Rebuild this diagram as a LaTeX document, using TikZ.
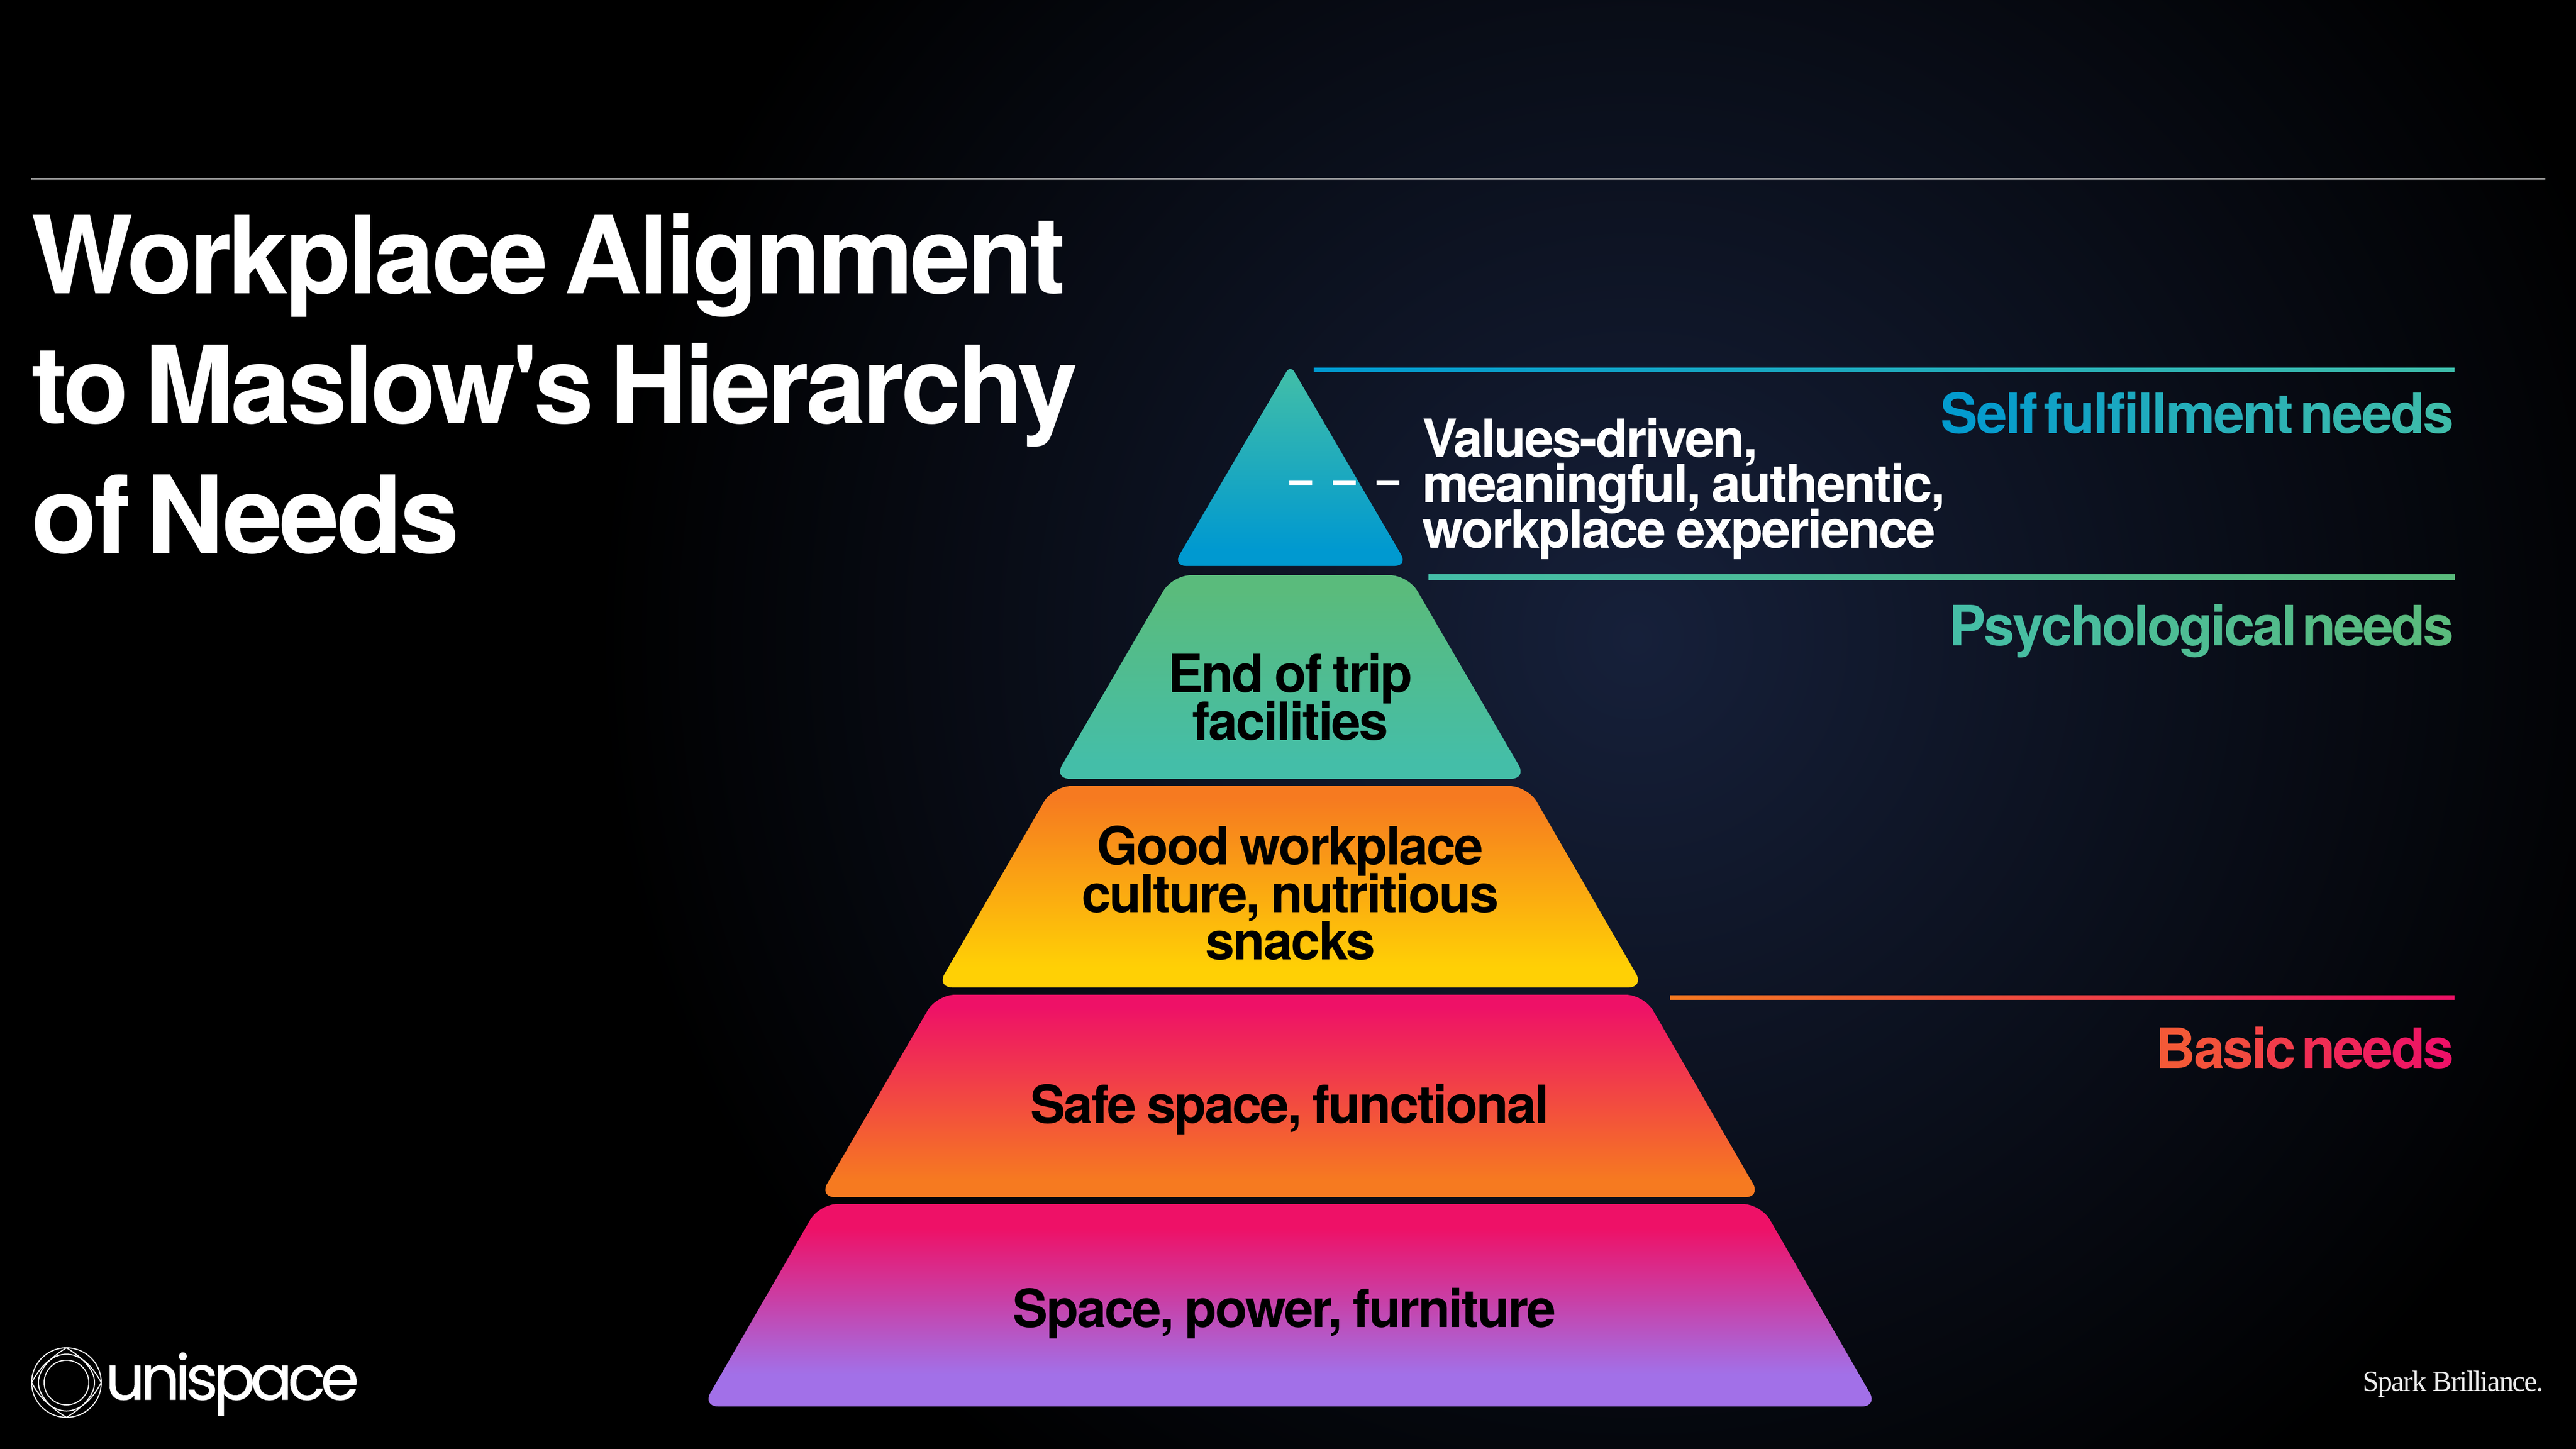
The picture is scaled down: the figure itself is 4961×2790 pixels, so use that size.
\documentclass[tikz,border=0pt]{standalone}
\usepackage{fontspec}
\setmainfont{TeX Gyre Heros}[LetterSpace=-3.1,WordSpace=0.8]
\newfontfamily\titlefont{TeX Gyre Heros}[Ligatures=TeXOff,LetterSpace=-2.9,WordSpace=0.6]
\newfontfamily\needsfont{TeX Gyre Heros}[WordSpace=0.6]
\newfontfamily\logofont{Poppins}[LetterSpace=-7.7,FakeBold=0.5]
\newfontfamily\sparkfont{Liberation Serif}[LetterSpace=-4]
\usetikzlibrary{positioning}

\definecolor{glowblue}{RGB}{22,32,58}
\definecolor{selfblue}{RGB}{0,153,208}
\definecolor{selfteal}{RGB}{62,188,170}
\definecolor{psyteal}{RGB}{68,190,168}
\definecolor{psygreen}{RGB}{90,187,124}
\definecolor{basicorange}{RGB}{246,122,32}
\definecolor{basicpink}{RGB}{238,17,103}
\definecolor{amber}{RGB}{255,208,5}
\definecolor{lilac}{RGB}{162,112,232}
\definecolor{rulegrey}{RGB}{190,190,190}

\pgfdeclareradialshading{glowshade}{\pgfpoint{0bp}{0bp}}{color(0bp)=(glowblue); color(25bp)=(black); color(100bp)=(black)}
\pgfdeclareverticalshading{tierone}{100bp}{color(0bp)=(selfblue); color(29bp)=(selfblue); color(71bp)=(selfteal); color(100bp)=(selfteal)}
\pgfdeclareverticalshading{tiertwo}{100bp}{color(0bp)=(psyteal); color(29bp)=(psyteal); color(71bp)=(psygreen); color(100bp)=(psygreen)}
\pgfdeclareverticalshading{tierthree}{100bp}{color(0bp)=(amber); color(30bp)=(amber); color(72bp)=(basicorange); color(100bp)=(basicorange)}
\pgfdeclareverticalshading{tierfour}{100bp}{color(0bp)=(basicorange); color(29bp)=(basicorange); color(72bp)=(basicpink); color(100bp)=(basicpink)}
\pgfdeclareverticalshading{tierfive}{100bp}{color(0bp)=(lilac); color(33bp)=(lilac); color(69bp)=(basicpink); color(100bp)=(basicpink)}
\pgfdeclarehorizontalshading{ruleself}{100bp}{color(0bp)=(selfblue); color(25bp)=(selfblue); color(75bp)=(selfteal); color(100bp)=(selfteal)}
\pgfdeclarehorizontalshading{rulepsy}{100bp}{color(0bp)=(psyteal); color(25bp)=(psyteal); color(75bp)=(psygreen); color(100bp)=(psygreen)}
\pgfdeclarehorizontalshading{rulebasic}{100bp}{color(0bp)=(basicorange); color(25bp)=(basicorange); color(75bp)=(basicpink); color(100bp)=(basicpink)}

% one colour per letter, running from #2 to #3, letters drawn together by #1
\ExplSyntaxOn
\int_new:N \l_gradtext_int
\NewDocumentCommand{\gradtext}{mmmm}{
  \int_zero:N \l_gradtext_int
  \str_map_inline:nn {#4}{
    \int_incr:N \l_gradtext_int
    \color{#2!\int_eval:n{100-100*\l_gradtext_int/\str_count:n{#4}}!#3}\scan_stop:
    \kern #1 \scan_stop: ##1
  }
}
\ExplSyntaxOff

\newcommand{\tightlines}[1]{\bfseries\fontsize{28.8pt}{#1}\selectfont\lineskiplimit-100pt\relax}

\tikzset{
  bigtitle/.style={anchor=base west, inner sep=0pt, text=white, font=\titlefont\bfseries\fontsize{59pt}{71pt}\selectfont},
  tierlabel/.style={inner sep=0pt, align=center, text=black, font=\tightlines{26.1pt}},
  needlabel/.style={anchor=base east, inner sep=0pt, font=\needsfont\bfseries\fontsize{30.4pt}{36pt}\selectfont},
  logoring/.style={draw=white, line width=0.02cm},
  arista/.style={white, line width=0.08cm, dash pattern=on 0.44cm off 0.4cm}
}

\begin{document}
\begin{tikzpicture}[x=0.01cm,y=-0.01cm]
  \useasboundingbox (0,0) rectangle (4961,2790);
  \fill[black] (-10,-10) rectangle (4971,2800);
  \begin{scope}
    \clip (-10,-10) rectangle (4971,2800);
    \path[shading=glowshade] (3150,1230) circle (2000);
  \end{scope}

  \draw[rulegrey, line width=0.03cm] (60,344) -- (4902,344);
  \node[bigtitle] (title1) at (60,565) {Workplace Alignment};
  \node[bigtitle] (title2) at (60,815) {\addfontfeatures{LetterSpace=-3.2}to Maslow's Hierarchy};
  \node[bigtitle] (title3) at (60,1065) {of Needs};

  % pyramid, tip first
  \path[shading=tierone] (2485,1090) [rounded corners=0.25cm] -- (2711,1090) [rounded corners=0.15cm] -- (2485,703) [rounded corners=0.25cm] -- (2259,1090) -- cycle;
  \path[shading=tiertwo] (2485,1500) [rounded corners=0.3cm] -- (2940,1500) [rounded corners=0.35cm] -- (2712,1108) -- (2258,1108) [rounded corners=0.3cm] -- (2030,1500) -- cycle;
  \path[shading=tierthree] (2485,1902) [rounded corners=0.3cm] -- (3166,1902) [rounded corners=0.35cm] -- (2942,1514) -- (2028,1514) [rounded corners=0.3cm] -- (1804,1902) -- cycle;
  \path[shading=tierfour] (2485,2306) [rounded corners=0.3cm] -- (3391,2306) [rounded corners=0.35cm] -- (3166,1916) -- (1804,1916) [rounded corners=0.3cm] -- (1578,2306) -- cycle;
  \path[shading=tierfive] (2485,2709) [rounded corners=0.3cm] -- (3616,2709) [rounded corners=0.35cm] -- (3391,2319) -- (1578,2319) [rounded corners=0.3cm] -- (1353,2709) -- cycle;

  \node[tierlabel] (trip) at (2485,1342) {End of trip\\facilities};
  \node[tierlabel] (culture) at (2485,1720) {Good workplace\\culture, nutritious\\snacks};
  \node[tierlabel, anchor=base] (safe) at (2484,2163) {Safe space, functional};
  \node[tierlabel, anchor=base] (power) at (2474,2556) {Space, power, furniture};

  \node[tierlabel, text=white, anchor=west, align=left, font=\tightlines{24.9pt}] (values) at (2739,941) {Values-driven,\\meaningful, authentic,\\workplace experience};
  \coordinate (tipmid) at (2483,930);
  \coordinate (valuesend) at (2697,930);
  \draw[arista] (tipmid) -- (valuesend);

  % rules and their labels on the right
  \path[shading=ruleself] (2530,708) rectangle (4727,716);
  \path[shading=rulepsy] (2751,1106) rectangle (4728,1116);
  \path[shading=rulebasic] (3216,1917) rectangle (4727,1925);
  \node[needlabel] (selfneeds) at (4727,834) {\gradtext{-0.028em}{selfblue}{selfteal}{Self fulfillment needs}};
  \node[needlabel] (psyneeds) at (4727,1243) {\gradtext{-0.038em}{psyteal}{psygreen}{Psychological needs}};
  \node[needlabel] (basicneeds) at (4727,2057) {\gradtext{-0.035em}{basicorange!75!basicpink}{basicpink}{Basic needs}};

  % logo
  \draw[logoring] (128,2663) circle (67);
  \draw[logoring] (128,2663) circle (43);
  \draw[logoring] (128,2596) .. controls (200,2640) and (200,2686) .. (128,2730) .. controls (56,2686) and (56,2640) .. (128,2596) -- cycle;
  \draw[logoring] (61,2663) .. controls (100,2590) and (156,2590) .. (195,2663) .. controls (156,2736) and (100,2736) .. (61,2663) -- cycle;
  \node[inner sep=0pt, anchor=base west, text=white, font=\logofont\fontsize{34pt}{36pt}\selectfont] (unispace) at (202,2696) {unispace};
  \node[inner sep=0pt, anchor=base east, text=white!92!black, font=\sparkfont\fontsize{16pt}{18pt}\selectfont] (spark) at (4899,2679) {Spark Brilliance.};
\end{tikzpicture}
\end{document}
